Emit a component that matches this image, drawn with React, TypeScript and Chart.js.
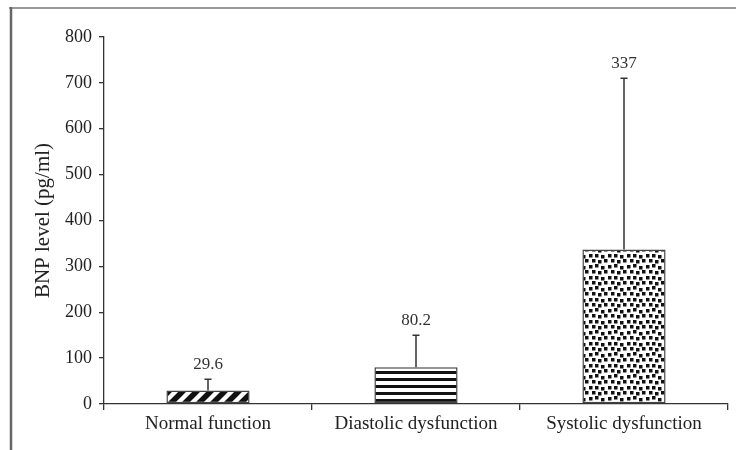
import React, { useEffect, useRef } from "react";
import { Chart, registerables } from "chart.js";

Chart.register(...registerables);

const categories = ["Normal function", "Diastolic dysfunction", "Systolic dysfunction"];
const meanValues = [29.6, 80.2, 337];
const errorTops = [54, 150, 710];
const valueLabels = ["29.6", "80.2", "337"];
const yMin = 0;
const yMax = 800;
const yStep = 100;
const yTitle = "BNP level (pg/ml)";

const FONT = "'Liberation Serif', 'Times New Roman', serif";
const INK = "#333";

function makeTile(w: number, h: number, draw: (c: CanvasRenderingContext2D) => void) {
  const cv = document.createElement("canvas");
  cv.width = w;
  cv.height = h;
  const c = cv.getContext("2d") as CanvasRenderingContext2D;
  c.fillStyle = "#fff";
  c.fillRect(0, 0, w, h);
  draw(c);
  return cv;
}

function diagonalPattern(ctx: CanvasRenderingContext2D) {
  const s = 14;
  const tile = makeTile(s, s, (c) => {
    c.strokeStyle = "#111";
    c.lineWidth = 5.5;
    c.beginPath();
    c.moveTo(-s, 2 * s);
    c.lineTo(2 * s, -s);
    c.moveTo(-s, s);
    c.lineTo(s, -s);
    c.moveTo(0, 2 * s);
    c.lineTo(2 * s, 0);
    c.stroke();
  });
  return ctx.createPattern(tile, "repeat");
}

function horizontalPattern(ctx: CanvasRenderingContext2D) {
  const tile = makeTile(8, 7, (c) => {
    c.fillStyle = "#111";
    c.fillRect(0, 0, 8, 3);
  });
  return ctx.createPattern(tile, "repeat");
}

const dotSpots: [number, number][] = [
  [0, 1], [6, 0], [12, 2], [3, 6], [9, 7], [15, 6],
  [0, 12], [6, 12], [12, 13], [3, 17], [9, 18], [15, 17],
];

function dotPattern(ctx: CanvasRenderingContext2D) {
  const tile = makeTile(19, 22, (c) => {
    c.fillStyle = "#111";
    dotSpots.forEach(([x, y]) => c.fillRect(x, y, 3.5, 3.5));
  });
  return ctx.createPattern(tile, "repeat");
}

const errorBarPlugin = {
  id: "errorBars",
  afterDatasetsDraw(chart: any) {
    const { ctx, scales } = chart;
    const meta = chart.getDatasetMeta(0);
    ctx.save();
    meta.data.forEach((bar: any, i: number) => {
      const x = bar.x;
      const yTop = scales.y.getPixelForValue(errorTops[i]);
      ctx.strokeStyle = INK;
      ctx.lineWidth = 1.5;
      ctx.beginPath();
      ctx.moveTo(x, bar.y);
      ctx.lineTo(x, yTop);
      ctx.moveTo(x - 3.5, yTop);
      ctx.lineTo(x + 3.5, yTop);
      ctx.stroke();
      ctx.fillStyle = INK;
      ctx.font = `17px ${FONT}`;
      ctx.textAlign = "center";
      ctx.textBaseline = "alphabetic";
      ctx.fillText(valueLabels[i], x, yTop - 10);
    });
    ctx.restore();
  },
};

const framePlugin = {
  id: "frame",
  beforeDraw(chart: any) {
    const { ctx, width, height } = chart;
    ctx.save();
    ctx.fillStyle = "#fff";
    ctx.fillRect(0, 0, width, height);
    ctx.restore();
  },
  afterDraw(chart: any) {
    const { ctx, width, height } = chart;
    ctx.save();
    ctx.strokeStyle = "#9a9a9a";
    ctx.lineWidth = 2;
    ctx.beginPath();
    ctx.moveTo(9, 8);
    ctx.lineTo(width, 8);
    ctx.stroke();
    ctx.strokeStyle = "#666";
    ctx.lineWidth = 2.5;
    ctx.beginPath();
    ctx.moveTo(11, 7);
    ctx.lineTo(11, height);
    ctx.stroke();
    ctx.restore();
  },
};

export default function App() {
  const ref = useRef<HTMLCanvasElement | null>(null);

  useEffect(() => {
    const canvas = ref.current;
    if (!canvas) return;
    const ctx = canvas.getContext("2d") as CanvasRenderingContext2D;
    const fills = [diagonalPattern(ctx), horizontalPattern(ctx), dotPattern(ctx)];

    const chart = new Chart(canvas, {
      type: "bar",
      data: {
        labels: categories,
        datasets: [
          {
            data: meanValues,
            backgroundColor: fills as any,
            borderColor: "#444",
            borderWidth: 1.5,
            borderSkipped: false,
            barPercentage: 0.4,
            categoryPercentage: 1,
          },
        ],
      },
      options: {
        responsive: false,
        animation: false,
        layout: { padding: { top: 37, right: 8, bottom: 0, left: 0 } },
        plugins: {
          legend: { display: false },
          tooltip: { enabled: false },
        },
        scales: {
          x: {
            offset: true,
            grid: {
              offset: true,
              drawOnChartArea: false,
              drawTicks: true,
              tickLength: 6,
              color: INK,
              lineWidth: 1.3,
            },
            border: { display: true, color: INK, width: 1.3 },
            ticks: {
              color: "#222",
              font: { family: FONT, size: 19 },
              padding: 3,
              maxRotation: 0,
              autoSkip: false,
            },
            afterFit: (s: any) => {
              s.height = 46;
            },
          },
          y: {
            min: yMin,
            max: yMax,
            grid: {
              drawOnChartArea: false,
              drawTicks: true,
              tickLength: 5,
              color: INK,
              lineWidth: 1.3,
            },
            border: { display: true, color: INK, width: 1.3 },
            ticks: {
              stepSize: yStep,
              color: "#222",
              font: { family: FONT, size: 18 },
              padding: 7,
            },
            title: {
              display: true,
              text: yTitle,
              color: "#222",
              font: { family: FONT, size: 21 },
              padding: { top: 31, bottom: 0 },
            },
            afterFit: (s: any) => {
              s.width = 104;
            },
          },
        },
      },
      plugins: [errorBarPlugin, framePlugin],
    });

    return () => chart.destroy();
  }, []);

  return (
    <div style={{ position: "fixed", left: 0, top: 0, width: 736, height: 450 }}>
      <canvas ref={ref} width={736} height={450} style={{ display: "block" }} />
    </div>
  );
}
